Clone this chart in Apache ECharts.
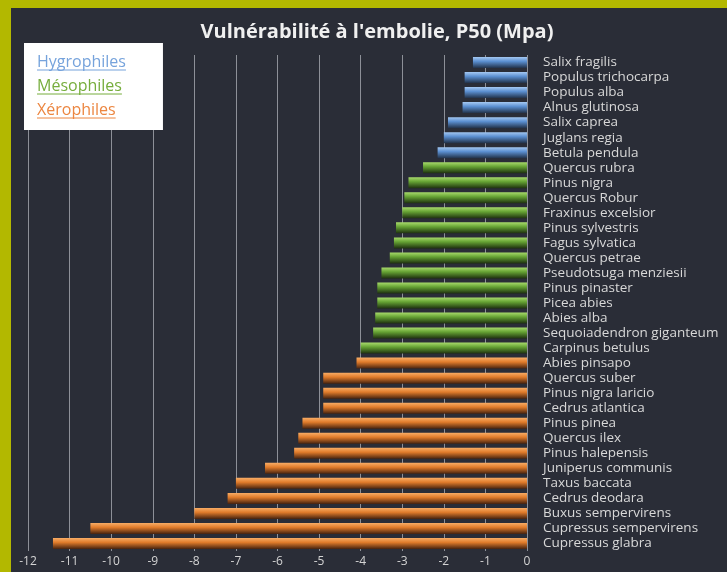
<!DOCTYPE html>
<html>
<head>
<meta charset="utf-8">
<script src="https://cdn.jsdelivr.net/npm/echarts@6/dist/echarts.min.js"></script>
<style>
  html, body { margin: 0; padding: 0; background: #b3b800; }
  #frame { position: absolute; left: 11px; top: 8px; width: 716px; height: 564px; background: #2a2d37; }
  #chart { position: absolute; left: 0; top: 0; width: 727px; height: 572px; }
</style>
</head>
<body>
<div id="frame"></div>
<div id="chart"></div>
<script>
var categories = [
    "Salix fragilis", "Populus trichocarpa", "Populus alba", "Alnus glutinosa", "Salix caprea",
    "Juglans regia", "Betula pendula",
    "Quercus rubra", "Pinus nigra", "Quercus Robur", "Fraxinus excelsior", "Pinus sylvestris",
    "Fagus sylvatica", "Quercus petrae", "Pseudotsuga menziesii", "Pinus pinaster", "Picea abies",
    "Abies alba", "Sequoiadendron giganteum", "Carpinus betulus",
    "Abies pinsapo", "Quercus suber", "Pinus nigra laricio", "Cedrus atlantica", "Pinus pinea",
    "Quercus ilex", "Pinus halepensis", "Juniperus communis", "Taxus baccata", "Cedrus deodara",
    "Buxus sempervirens", "Cupressus sempervirens", "Cupressus glabra"
];
var hygro = [-1.3, -1.5, -1.5, -1.55, -1.9, -2.0, -2.15];
var meso = [-2.5, -2.85, -2.95, -3.0, -3.15, -3.2, -3.3, -3.5, -3.6, -3.6, -3.65, -3.7, -4.0];
var xero = [-4.1, -4.9, -4.9, -4.9, -5.4, -5.5, -5.6, -6.3, -7.0, -7.2, -8.0, -10.5, -11.4];
var groups = ["Hygrophiles", "Mésophiles", "Xérophiles"];
var groupColors = ['#76a3dc', '#76ad3c', '#ec8640'];

// chaque groupe occupe ses propres lignes, le reste vide
function pad(before, vals, after) {
    var out = [];
    for (var i = 0; i < before; i++) out.push('-');
    out = out.concat(vals);
    for (var j = 0; j < after; j++) out.push('-');
    return out;
}
var n = categories.length;

function grad(top, mid, bottom) {
    return new echarts.graphic.LinearGradient(0, 0, 0, 1, [
        { offset: 0, color: top },
        { offset: 0.4, color: mid },
        { offset: 1, color: bottom }
    ]);
}

// largeur des textes de légende pour les soulignements
var ctx = document.createElement('canvas').getContext('2d');
ctx.font = '16px "Open Sans"';
var underlines = groups.map(function (g, i) {
    var w = ctx.measureText(g).width;
    return {
        type: 'line',
        shape: { x1: 37, y1: 70 + i * 24, x2: 37 + w, y2: 70 + i * 24 },
        style: { stroke: groupColors[i], lineWidth: 1 },
        z: 100
    };
});

var myChart = echarts.init(document.getElementById("chart"));
var option = {
    title: {
        text: "Vulnérabilité à l'embolie, P50 (Mpa)",
        left: 372,
        textAlign: 'center',
        top: 17,
        textStyle: { color: '#f0f0f0', fontSize: 20, fontWeight: 'bold', fontFamily: 'Open Sans' }
    },
    legend: {
        data: [
            { name: groups[0], textStyle: { color: groupColors[0] } },
            { name: groups[1], textStyle: { color: groupColors[1] } },
            { name: groups[2], textStyle: { color: groupColors[2] } }
        ],
        orient: 'vertical',
        left: 24,
        top: 43,
        backgroundColor: '#ffffff',
        padding: [7, 37, 8, 8],
        itemGap: 0,
        itemWidth: 0,
        itemHeight: 0,
        icon: 'none',
        selectedMode: false,
        textStyle: { fontSize: 16, fontFamily: 'Open Sans', lineHeight: 24 }
    },
    graphic: underlines,
    grid: { left: 28, right: 200, top: 55, bottom: 21 },
    xAxis: {
        type: 'value',
        min: -12,
        max: 0,
        interval: 1,
        axisLine: { show: false },
        axisTick: { show: false },
        axisLabel: { color: '#d4d4d4', fontSize: 12, fontFamily: 'Open Sans', margin: 5 },
        splitLine: { show: true, lineStyle: { color: '#8d9098', width: 1 } }
    },
    yAxis: {
        type: 'category',
        data: categories,
        inverse: true,
        position: 'right',
        axisLine: { show: false },
        axisTick: { show: false },
        axisLabel: {
            interval: 0, color: '#d8d8d8', fontSize: 13.5, fontFamily: 'Open Sans',
            margin: 16, align: 'left'
        }
    },
    series: [
        {
            name: groups[0], type: 'bar', stack: 'p50', barWidth: 11,
            data: pad(0, hygro, n - hygro.length),
            itemStyle: { color: grad('#a4c8f2', '#5b8fd0', '#223249') }
        },
        {
            name: groups[1], type: 'bar', stack: 'p50', barWidth: 11,
            data: pad(hygro.length, meso, xero.length),
            itemStyle: { color: grad('#a8da6c', '#66a334', '#1e310f') }
        },
        {
            name: groups[2], type: 'bar', stack: 'p50', barWidth: 11,
            data: pad(hygro.length + meso.length, xero, 0),
            itemStyle: { color: grad('#f8ad66', '#e17c2b', '#47230f') }
        }
    ]
};
myChart.setOption(option);
</script>
</body>
</html>
